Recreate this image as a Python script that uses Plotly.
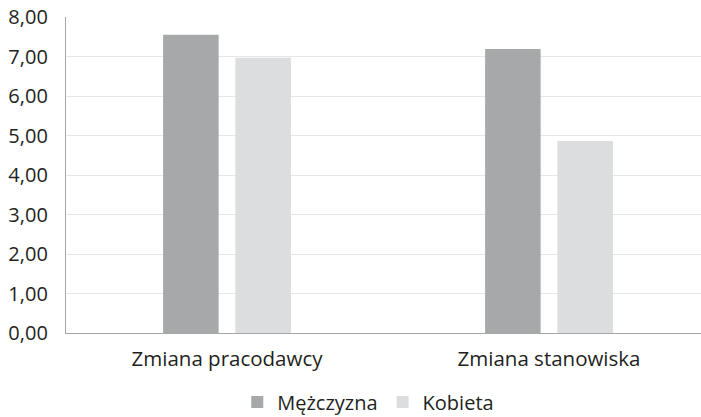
import plotly.graph_objects as go

categories = ["Zmiana pracodawcy", "Zmiana stanowiska"]
men = [7.55, 7.19]
women = [6.97, 4.86]
tick_vals = [0, 1, 2, 3, 4, 5, 6, 7, 8]

FONT = "Open Sans"
TEXT = "#231f20"

fig = go.Figure()
fig.add_bar(name="Mężczyzna", x=categories, y=men,
            marker=dict(color="#a7a8aa", line=dict(width=0)))
fig.add_bar(name="Kobieta", x=categories, y=women,
            marker=dict(color="#dcdddf", line=dict(width=0)))

fig.update_layout(
    width=701, height=417,
    margin=dict(l=66, r=0, t=17, b=84),
    paper_bgcolor="white", plot_bgcolor="white",
    barmode="group", bargap=0.551, bargroupgap=0.232,
    separators=", ",
    font=dict(family=FONT, size=20, color=TEXT),
    showlegend=True,
    legend=dict(orientation="h", x=0.476, xanchor="center",
                yref="container", y=0.036, yanchor="middle",
                font=dict(size=20, color=TEXT), itemwidth=30, traceorder="normal"),
)
fig.update_xaxes(range=[-0.5, 1.472], showline=True, linecolor="#a6a6a6", linewidth=1.3,
                 showgrid=False, ticks="", tickfont=dict(size=20.5, color=TEXT),
                 ticklabelstandoff=7)
fig.update_yaxes(range=[0, 8], tickvals=tick_vals, tickformat=".2f",
                 showline=True, linecolor="#a6a6a6", linewidth=1.3,
                 showgrid=True, gridcolor="#e6e6e6", gridwidth=1.3,
                 zeroline=False, ticks="", tickfont=dict(size=20, color=TEXT),
                 ticklabelstandoff=13)

fig.write_html("out.html")
